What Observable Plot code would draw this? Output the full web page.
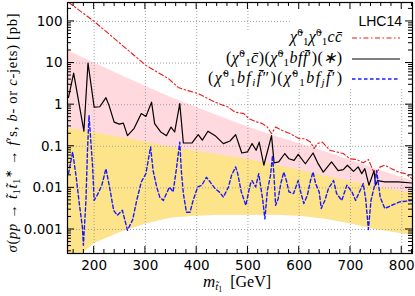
<!DOCTYPE html>
<html><head><meta charset="utf-8">
<script src="https://cdn.jsdelivr.net/npm/d3@7"></script>
<script src="https://cdn.jsdelivr.net/npm/@observablehq/plot@0.6"></script>
<style>html,body{margin:0;padding:0;background:#fff;} #chart{width:415px;height:296px;overflow:hidden;}</style>
</head><body><div id="chart"></div>
<script>
// ---- tick labels ----
const xTicks = [200, 300, 400, 500, 600, 700, 800];
const yTicks = [0.001, 0.01, 0.1, 1, 10, 100];
const yTickLabels = ["0.001", "0.01", "0.1", "1", "10", "100"];

// ---- uncertainty bands ----
const bandMass    = [150, 175, 200, 250, 300, 350, 400, 450, 500, 550, 600, 650, 700, 750, 800, 825];
const pinkUpper   = [19.5, 14, 10, 5.2, 2.75, 1.48, 0.85, 0.49, 0.29, 0.178, 0.115, 0.074, 0.046, 0.028, 0.0178, 0.014];
const yellowUpper = [0.27, 0.24, 0.21, 0.164, 0.126, 0.095, 0.076, 0.06, 0.048, 0.036, 0.027, 0.019, 0.014, 0.011, 0.0081, 0.0072];
const yellowLower = [0.00012, 0.00025, 0.00046, 0.00085, 0.00135, 0.0019, 0.0021, 0.0022, 0.0022, 0.0022, 0.0021, 0.0018, 0.00138, 0.001, 0.0008, 0.0007];

// ---- chi chi c cbar (red dash-dot) ----
const redMass = [150, 200, 301, 318, 345, 364, 371, 403, 436, 461, 475, 492, 502, 518, 528, 538, 546, 554, 567, 583, 600, 611, 622, 629, 635, 645, 660, 673, 686, 699, 712, 725, 735, 741, 748, 758, 767, 780, 794, 807, 820];
const redVal  = [290, 100, 8.8, 6.6, 4.2, 2.6, 2.4, 1.84, 1.15, 0.875, 0.66, 0.61, 0.46, 0.38, 0.35, 0.29, 0.2, 0.29, 0.24, 0.2, 0.152, 0.152, 0.126, 0.088, 0.116, 0.126, 0.08, 0.073, 0.067, 0.05, 0.048, 0.04, 0.048, 0.032, 0.02, 0.032, 0.035, 0.029, 0.024, 0.022, 0.0167];

// ---- (chi cbar)(chi b f fbar') (black) ----
const blackMass = [150, 160, 180, 188, 200, 211, 223, 229, 239, 249, 257, 265, 278, 292, 301, 312, 318, 330, 341, 350, 357, 367, 374, 391, 403, 411, 422, 436, 452, 465, 476, 488, 499, 508, 516, 522, 531, 546, 551, 560, 572, 580, 590, 598, 612, 627, 636, 647, 663, 676, 686, 694, 706, 715, 722, 728, 736, 746, 749, 753, 767, 793, 820];
const blackVal  = [1.5, 5.7, 0.23, 10, 0.87, 0.89, 1.47, 0.96, 0.38, 0.34, 0.36, 0.18, 0.27, 0.61, 0.52, 1.15, 0.35, 0.22, 0.18, 0.29, 0.22, 1.06, 0.12, 0.12, 0.19, 0.14, 0.23, 0.18, 0.116, 0.134, 0.19, 0.069, 0.073, 0.116, 0.08, 0.126, 0.035, 0.18, 0.04, 0.042, 0.067, 0.05, 0.046, 0.064, 0.038, 0.069, 0.04, 0.024, 0.042, 0.026, 0.0275, 0.035, 0.025, 0.032, 0.022, 0.029, 0.0116, 0.026, 0.0116, 0.015, 0.0139, 0.0139, 0.0131];

// ---- (chi b fi fbar'')(chi b fj fbar') (blue dashed) ----
const blueMass = [150, 158, 165, 171, 177, 179, 184, 187, 190, 197, 200, 206, 215, 223, 230, 238, 245, 255, 265, 275, 283, 292, 301, 310, 315, 322, 328, 335, 341, 347, 354, 360, 365, 367, 370, 374, 380, 387, 393, 402, 410, 419, 426, 436, 444, 452, 462, 468, 476, 480, 487, 496, 502, 505, 508, 515, 521, 525, 529, 533, 538, 544, 548, 551, 554, 559, 564, 570, 575, 580, 589, 598, 602, 609, 616, 622, 627, 632, 639, 643, 650, 657, 667, 673, 683, 693, 703, 710, 719, 725, 730, 735, 740, 748, 751, 758, 767, 780, 796, 820];
const blueVal  = [0.022, 0.073, 0.018, 0.0042, 0.00115, 0.00042, 0.005, 0.08, 0.55, 0.032, 0.005, 0.0067, 0.0116, 0.029, 0.0105, 0.0029, 0.0022, 0.0029, 0.00096, 0.0017, 0.005, 0.0139, 0.022, 0.096, 0.026, 0.0105, 0.006, 0.005, 0.0073, 0.0105, 0.008, 0.026, 0.08, 0.126, 0.026, 0.0073, 0.0026, 0.0026, 0.005, 0.0105, 0.0116, 0.018, 0.014, 0.0096, 0.008, 0.006, 0.0105, 0.02, 0.032, 0.022, 0.008, 0.0038, 0.0088, 0.0127, 0.015, 0.0105, 0.022, 0.0105, 0.005, 0.0018, 0.0088, 0.02, 0.06, 0.018, 0.0038, 0.0055, 0.0127, 0.024, 0.015, 0.008, 0.0073, 0.015, 0.0088, 0.0042, 0.0067, 0.015, 0.024, 0.0127, 0.008, 0.0032, 0.005, 0.0096, 0.015, 0.0073, 0.005, 0.0116, 0.008, 0.005, 0.0088, 0.0127, 0.005, 0.001, 0.005, 0.0127, 0.026, 0.006, 0.0032, 0.0038, 0.0046, 0.005];

(function () {
const bands = bandMass.map((m, i) => ({m, pu: pinkUpper[i], yu: yellowUpper[i], yl: yellowLower[i]}));
const red = redMass.map((m, i) => ({m, v: redVal[i]}));
const black = blackMass.map((m, i) => ({m, v: blackVal[i]}));
const blue = blueMass.map((m, i) => ({m, v: blueVal[i]}));

const ML = 67, MR = 3, MT = 2, MB = 43, W = 415, H = 296;
const gridStyle = {stroke: "#9a9a9a", strokeWidth: 0.9, strokeDasharray: "1,2", strokeOpacity: 1};

const plot = Plot.plot({
  width: W, height: H,
  marginLeft: ML, marginRight: MR, marginTop: MT, marginBottom: MB,
  style: {fontFamily: "DejaVu Sans", fontSize: "13.5px", color: "black", background: "white", overflow: "visible"},
  x: {domain: [148, 821]},
  y: {type: "log", domain: [0.000265, 285]},
  marks: [
    Plot.areaY(bands, {x: "m", y1: "yl", y2: "pu", fill: "#ffd9dd", clip: true}),
    Plot.areaY(bands, {x: "m", y1: "yl", y2: "yu", fill: "#fde38a", clip: true}),
    Plot.ruleX(xTicks, {x: d => d, ...gridStyle}),
    Plot.ruleY(yTicks, {y: d => d, ...gridStyle}),
    Plot.line(red, {x: "m", y: "v", stroke: "#f01818", strokeWidth: 1.1, strokeDasharray: "5,2.5,1.5,2.5", clip: true}),
    Plot.line(black, {x: "m", y: "v", stroke: "#000", strokeWidth: 1.2, clip: true}),
    Plot.line(blue, {x: "m", y: "v", stroke: "#1a1aff", strokeWidth: 1.4, strokeDasharray: "3.5,2.5", clip: true}),
    Plot.frame({stroke: "#000", strokeWidth: 1.2}),
    Plot.axisX(xTicks, {tickSize: 0, tickPadding: 7, label: null}),
    Plot.axisY(yTicks, {tickSize: 0, tickPadding: 5, label: null, tickFormat: d => yTickLabels[yTicks.indexOf(d)]})
  ]
});
document.getElementById("chart").appendChild(plot);

// ---- inward ticks using the plot's own scales ----
const svg = d3.select(plot);
const X = plot.scale("x"), Y = plot.scale("y");
const pLeft = ML, pRight = W - MR, pTop = MT, pBottom = H - MB;
const tg = svg.append("g").attr("stroke", "#000").attr("stroke-width", 1);
const yMinor = [];
for (let e = -4; e <= 2; e++) for (let k = 2; k <= 9; k++) { const v = k * Math.pow(10, e); if (v > 0.000265 && v < 285) yMinor.push(v); }
const xMinor = [];
for (let v = 160; v <= 820; v += 20) if (v % 100 !== 0) xMinor.push(v);
function hTick(v, len) {
  const y = Y.apply(v);
  tg.append("line").attr("x1", pLeft).attr("x2", pLeft + len).attr("y1", y).attr("y2", y);
  tg.append("line").attr("x1", pRight).attr("x2", pRight - len).attr("y1", y).attr("y2", y);
}
function vTick(v, len) {
  const x = X.apply(v);
  tg.append("line").attr("x1", x).attr("x2", x).attr("y1", pBottom).attr("y2", pBottom - len);
  tg.append("line").attr("x1", x).attr("x2", x).attr("y1", pTop).attr("y2", pTop + len);
}
yTicks.forEach(v => hTick(v, 7));
yMinor.forEach(v => hTick(v, 4));
xTicks.forEach(v => vTick(v, 7));
xMinor.forEach(v => vTick(v, 4));

// ---- legend box (opaque, under the curves) ----
svg.insert("rect", 'g[aria-label="line"]').attr("x", 290).attr("y", pTop + 1).attr("width", pRight - 291).attr("height", 86).attr("fill", "#fff");
svg.insert("rect", 'g[aria-label="line"]').attr("x", 200).attr("y", 30).attr("width", pRight - 201).attr("height", 57).attr("fill", "#fff");

// ---- rich text helper ----
const SERIF = "Liberation Serif";
function rich(x, y, parts, opts = {}) {
  const t = svg.append("text").attr("x", x).attr("y", y)
    .attr("font-family", SERIF).attr("font-size", opts.fs || 16)
    .attr("text-anchor", opts.anchor || "start").attr("fill", "#000");
  if (opts.rotate) t.attr("transform", `rotate(-90 ${x} ${y})`);
  if (opts.len) t.attr("textLength", opts.len).attr("lengthAdjust", "spacing");
  let cur = 0;
  parts.forEach(p => {
    const [s, o = {}] = Array.isArray(p) ? p : [p, {}];
    const b = o.b || 0;
    const ts = t.append("tspan").text(s);
    if (b !== cur) { ts.attr("dy", b - cur); cur = b; }
    if (o.i) ts.attr("font-style", "italic");
    if (o.fs) ts.attr("font-size", o.fs);
  });
  return t;
}
const chi = () => [["χ̃", {i: 1}], ["0", {b: -6, fs: 11}], ["1", {b: 3, fs: 11}]];

// legend
svg.append("text").attr("x", 402).attr("y", 26).attr("text-anchor", "end")
  .attr("font-family", "Liberation Sans").attr("font-size", 14).text("LHC14");
const lx = 342;
rich(lx, 42, [...chi(), ...chi(), ["c", {i: 1}], ["c̄", {i: 1}]], {anchor: "end", len: 52});
rich(lx, 63, ["(", ...chi(), ["c̄", {i: 1}], ")(", ...chi(), ["b", {i: 1}], ["f", {i: 1}], ["f̄", {i: 1}], "′)(", ["∗", {i: 1}], ")"], {anchor: "end", len: 116});
rich(lx, 83, ["(", ...chi(), ["b", {i: 1}], ["f", {i: 1}], ["i", {i: 1, b: 3, fs: 11}], ["f̄", {i: 1}], "″)(", ...chi(), ["b", {i: 1}], ["f", {i: 1}], ["j", {i: 1, b: 3, fs: 11}], ["f̄", {i: 1}], "′)"], {anchor: "end", len: 134});
const lg = svg.append("g");
lg.append("line").attr("x1", 352).attr("x2", 400).attr("y1", 38).attr("y2", 38).attr("stroke", "#f01818").attr("stroke-width", 1.1).attr("stroke-dasharray", "5,2.5,1.5,2.5");
lg.append("line").attr("x1", 352).attr("x2", 400).attr("y1", 59).attr("y2", 59).attr("stroke", "#000").attr("stroke-width", 1.2);
lg.append("line").attr("x1", 352).attr("x2", 400).attr("y1", 79).attr("y2", 79).attr("stroke", "#1a1aff").attr("stroke-width", 1.4).attr("stroke-dasharray", "3.5,2.5");

// axis titles
rich(237, 287, [["m", {i: 1, fs: 17}], ["t̃", {i: 1, b: 3, fs: 11}], ["1", {b: 5, fs: 8}], ["  [GeV]", {b: 0}]], {anchor: "middle", fs: 16});
rich(17, 133, [["σ", {i: 1}], "(", ["pp", {i: 1}], " → ", ["t̃", {i: 1}], ["1", {b: 3, fs: 10}], ["t̃", {i: 1, b: 0}], ["1", {b: 3, fs: 10}], ["∗", {b: -5, fs: 10}], " → ", ["f", {i: 1, b: 0}], "′s, ", ["b", {i: 1}], "- or ", ["c", {i: 1}], "-jets) [pb]"], {anchor: "middle", rotate: true, fs: 14.5, len: 239});
})();
</script>
</body></html>
